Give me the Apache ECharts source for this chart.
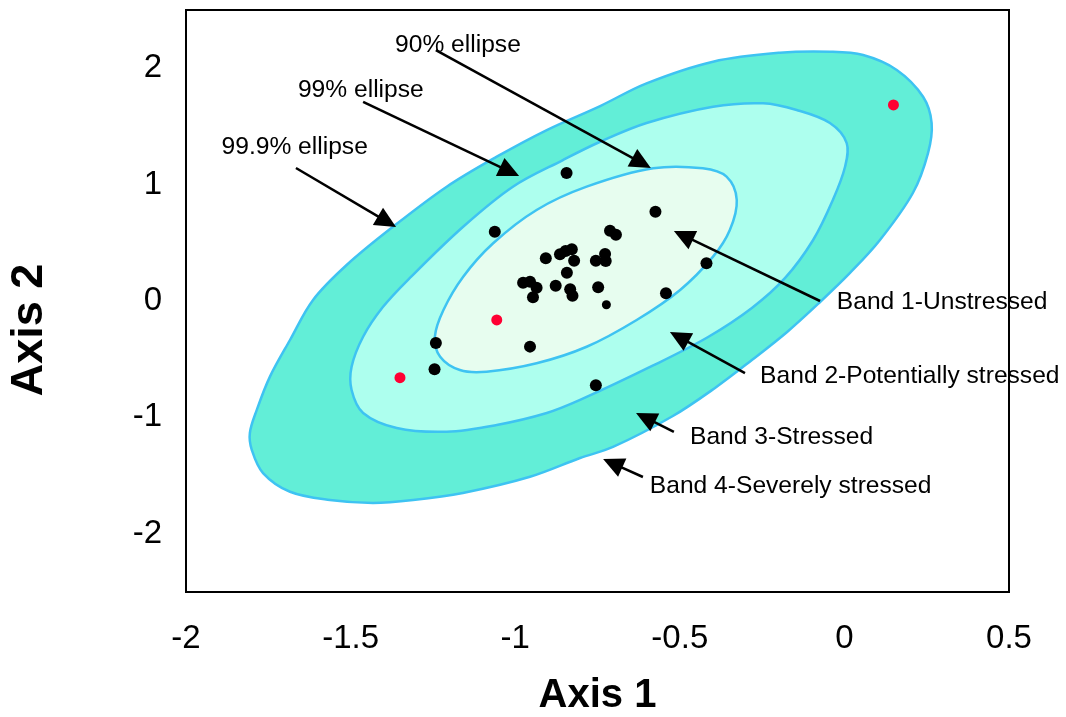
<!DOCTYPE html>
<html><head><meta charset="utf-8">
<script src="https://cdn.jsdelivr.net/npm/echarts@6/dist/echarts.min.js"></script>
<style>html,body{margin:0;padding:0;background:#fff}#c{width:1066px;height:717px}</style>
</head><body><div id="c"></div><script>
// axis ranges / ticks
const xRange = [-2, 0.5];
const yRange = [-2.5, 2.5];
const yTickValues = [-2, -1, 0, 1, 2];

// ellipse outlines (data units)
const ellipse999 = [[-1.806,-1.134],[-1.785,-0.936],[-1.745,-0.650],[-1.684,-0.335],[-1.614,0.009],[-1.512,0.309],[-1.371,0.638],[-1.208,0.982],[-1.056,1.240],[-0.904,1.469],[-0.742,1.675],[-0.601,1.870],[-0.399,2.056],[-0.196,2.133],[-0.044,2.142],[0.057,2.113],[0.159,1.985],[0.239,1.755],[0.265,1.529],[0.254,1.271],[0.208,0.928],[0.108,0.524],[0.017,0.241],[-0.074,-0.009],[-0.174,-0.266],[-0.281,-0.507],[-0.393,-0.747],[-0.521,-0.988],[-0.703,-1.254],[-0.803,-1.349],[-0.955,-1.510],[-1.159,-1.649],[-1.310,-1.710],[-1.432,-1.735],[-1.563,-1.710],[-1.684,-1.639],[-1.766,-1.478],[-1.800,-1.281]];
const ellipse99 = [[-1.497,-0.765],[-1.497,-0.565],[-1.462,-0.307],[-1.402,-0.052],[-1.320,0.198],[-1.159,0.636],[-1.007,0.982],[-0.855,1.211],[-0.742,1.368],[-0.601,1.529],[-0.399,1.669],[-0.247,1.698],[-0.145,1.641],[-0.044,1.529],[0.007,1.357],[0.002,1.153],[-0.035,0.868],[-0.095,0.524],[-0.180,0.198],[-0.281,-0.060],[-0.414,-0.309],[-0.584,-0.558],[-0.803,-0.850],[-0.904,-0.962],[-1.056,-1.065],[-1.208,-1.123],[-1.360,-1.091],[-1.462,-0.962]];
const ellipse90 = [[-1.244,-0.307],[-1.218,-0.077],[-1.158,0.209],[-1.067,0.496],[-0.935,0.782],[-0.783,0.982],[-0.581,1.140],[-0.430,1.140],[-0.358,1.068],[-0.327,0.868],[-0.348,0.610],[-0.399,0.381],[-0.499,0.095],[-0.631,-0.163],[-0.783,-0.393],[-0.935,-0.535],[-1.087,-0.607],[-1.168,-0.593],[-1.228,-0.479]];

// sample points
const blackPoints = [[-0.844,1.10],[-1.062,0.595],[-0.574,0.767],[-0.712,0.604],[-0.694,0.570],[-0.907,0.367],[-0.864,0.401],[-0.847,0.430],[-0.828,0.444],[-0.821,0.346],[-0.755,0.346],[-0.727,0.404],[-0.725,0.344],[-0.843,0.243],[-0.976,0.157],[-0.955,0.166],[-0.935,0.114],[-0.946,0.032],[-0.877,0.131],[-0.833,0.100],[-0.826,0.046],[-0.748,0.118],[-0.419,0.324],[-0.542,0.066],[-1.241,-0.361],[-0.955,-0.392],[-1.245,-0.587],[-0.755,-0.724]];
const smallPoints = [[-0.723,-0.032]];
const redPoints = [[0.149,1.684],[-1.056,-0.163],[-1.350,-0.659]];

// annotations
const noteTexts = ['90% ellipse','99% ellipse','99.9% ellipse','Band 1-Unstressed','Band 2-Potentially stressed','Band 3-Stressed','Band 4-Severely stressed'];
const notePos = [[-1.365,2.199],[-1.660,1.813],[-1.892,1.319],[-0.023,-0.013],[-0.256,-0.643],[-0.469,-1.173],[-0.591,-1.588]];
const arrowFrom = [[-1.241,2.156],[-1.462,1.710],[-1.666,1.143],[-0.074,0.000],[-0.302,-0.619],[-0.518,-1.125],[-0.612,-1.512]];
const arrowTo   = [[-0.588,1.143],[-0.988,1.074],[-1.362,0.636],[-0.518,0.601],[-0.530,-0.266],[-0.633,-0.962],[-0.733,-1.357]];

const FONT = '"Liberation Sans", Arial, sans-serif';
const chart = echarts.init(document.getElementById('c'), null, {renderer:'canvas'});

function polySeries(pts, fill, z){
  return {
    type:'custom', coordinateSystem:'cartesian2d', data: pts, z: z, silent:true,
    renderItem:function(params, api){
      if (params.dataIndexInside !== 0) return null;
      const p = [];
      for (let i = 0; i < params.dataInsideLength; i++) {
        p.push(api.coord([api.value(0,i), api.value(1,i)]));
      }
      return {type:'polygon', shape:{points:p, smooth:0.35},
        style:{fill:fill, stroke:'#3EC3F2', lineWidth:2.5}};
    }
  };
}

const arrowData = arrowFrom.map((a,i)=>[a[0],a[1],arrowTo[i][0],arrowTo[i][1]]);

chart.setOption({
  animation:false,
  grid:{left:186, top:10, right:57, bottom:125, outerBoundsMode:'none', containLabel:false,
    show:true, borderColor:'#000', borderWidth:2, backgroundColor:'#fff'},
  graphic:[{type:'text', x:30, y:330, rotation:Math.PI/2, z:10,
    style:{text:'Axis 2', fontSize:45, fontWeight:'bold', fontFamily:FONT, fill:'#000', align:'center', verticalAlign:'middle'}}],
  xAxis:{type:'value', min:xRange[0], max:xRange[1], interval:0.5,
    axisLine:{show:false}, axisTick:{show:false}, splitLine:{show:false},
    axisLabel:{fontSize:33, color:'#000', fontFamily:FONT, margin:30, formatter:v=>String(+v.toFixed(1))},
    name:'Axis 1', nameLocation:'middle', nameGap:84,
    nameTextStyle:{fontSize:40, fontWeight:'bold', color:'#000', fontFamily:FONT}},
  yAxis:{type:'value', min:yRange[0], max:yRange[1], interval:0.5,
    axisLine:{show:false}, axisTick:{show:false}, splitLine:{show:false},
    axisLabel:{fontSize:33, color:'#000', fontFamily:FONT, margin:24,
      formatter:v=>yTickValues.some(t=>Math.abs(t-v)<1e-6)?String(Math.round(v)):''}},
  series:[
    polySeries(ellipse999,'#62EED7',1),
    polySeries(ellipse99,'#ADFFEE',2),
    polySeries(ellipse90,'#E7FDEF',3),
    {type:'scatter', data:blackPoints, symbolSize:12, itemStyle:{color:'#000', opacity:1}, z:5, silent:true},
    {type:'scatter', data:smallPoints, symbolSize:9, itemStyle:{color:'#000', opacity:1}, z:5, silent:true},
    {type:'scatter', data:redPoints, symbolSize:11, itemStyle:{color:'#FF0033', opacity:1}, z:5, silent:true},
    {type:'custom', coordinateSystem:'cartesian2d', data:arrowData, z:6, silent:true,
      renderItem:function(params, api){
        const p1 = api.coord([api.value(0), api.value(1)]);
        const p2 = api.coord([api.value(2), api.value(3)]);
        const dx = p2[0]-p1[0], dy = p2[1]-p1[1];
        const L = Math.sqrt(dx*dx+dy*dy), ux = dx/L, uy = dy/L;
        const hl = 21, hw = 10;
        const bx = p2[0]-ux*hl, by = p2[1]-uy*hl;
        return {type:'group', children:[
          {type:'line', shape:{x1:p1[0],y1:p1[1],x2:bx+ux*2,y2:by+uy*2}, style:{stroke:'#000', lineWidth:2.5}},
          {type:'polygon', shape:{points:[[p2[0],p2[1]],[bx-uy*hw,by+ux*hw],[bx+uy*hw,by-ux*hw]]}, style:{fill:'#000'}}
        ]};
      }},
    {type:'custom', coordinateSystem:'cartesian2d', data:notePos, z:7, silent:true, clip:false,
      renderItem:function(params, api){
        const p = api.coord([api.value(0), api.value(1)]);
        return {type:'text', x:p[0], y:p[1], style:{text:noteTexts[params.dataIndex], fontSize:24.6, fontFamily:FONT, fill:'#000', align:'left', verticalAlign:'middle'}};
      }}
  ]
});
</script></body></html>
